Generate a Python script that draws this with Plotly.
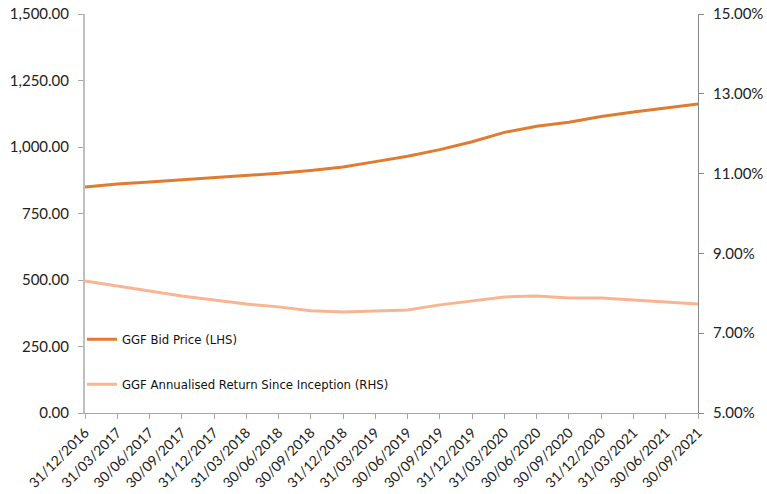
import plotly.graph_objects as go

dates = ["31/12/2016", "31/03/2017", "30/06/2017", "30/09/2017", "31/12/2017",
         "31/03/2018", "30/06/2018", "30/09/2018", "31/12/2018", "31/03/2019",
         "30/06/2019", "30/09/2019", "31/12/2019", "31/03/2020", "30/06/2020",
         "30/09/2020", "31/12/2020", "31/03/2021", "30/06/2021", "30/09/2021"]

bid_price = [850, 861, 868, 876, 884, 893, 901, 912, 925, 945,
             965, 990, 1020, 1055, 1078, 1093, 1115, 1132, 1146, 1162]

ann_return = [8.31, 8.18, 8.06, 7.93, 7.83, 7.73, 7.66, 7.56, 7.53, 7.56,
              7.58, 7.71, 7.81, 7.91, 7.93, 7.88, 7.88, 7.83, 7.78, 7.73]

bid_name = "GGF Bid Price (LHS)"
ret_name = "GGF Annualised Return Since Inception (RHS)"

fig = go.Figure()
fig.add_trace(go.Scatter(x=dates, y=bid_price, mode="lines", name=bid_name,
                         line=dict(color="#E07B30", width=3), legendgroup="a"))
fig.add_trace(go.Scatter(x=dates, y=ann_return, mode="lines", name=ret_name,
                         line=dict(color="#F9B592", width=3), yaxis="y2", legendgroup="b"))

xfont = dict(family="Lato, 'Open Sans', sans-serif", size=14, color="#222")
yfont = dict(family="Lato, 'Open Sans', sans-serif", size=15, color="#222")

fig.update_layout(
    width=767, height=494,
    margin=dict(l=85, r=69, t=14, b=81, autoexpand=False),
    paper_bgcolor="white", plot_bgcolor="white",
    showlegend=True,
    legend=dict(x=-0.005, y=0.222, xanchor="left", yanchor="top",
                font=dict(family="'DejaVu Sans Condensed', sans-serif", size=13, color="#111"),
                bgcolor="rgba(0,0,0,0)", tracegroupgap=25, itemwidth=30),
    xaxis=dict(type="category", range=[0, len(dates) - 1], tickangle=-45,
               showgrid=False, showline=True, linecolor="#A6A6A6", linewidth=1,
               ticks="outside", ticklen=5, tickcolor="#A6A6A6", automargin=False,
               tickfont=xfont, zeroline=False),
    yaxis=dict(range=[0, 1500], dtick=250, tickformat=",.2f",
               showgrid=False, showline=True, linecolor="#BFBFBF", linewidth=2,
               ticks="outside", ticklen=5, tickcolor="#A6A6A6", automargin=False,
               ticklabelstandoff=6, tickfont=yfont, zeroline=False),
    yaxis2=dict(range=[5, 15], tick0=5, dtick=2, tickformat=".2f", ticksuffix="%",
                overlaying="y", side="right", automargin=False,
                showgrid=False, showline=True, linecolor="#888888", linewidth=1,
                ticks="outside", ticklen=5, tickcolor="#888888",
                ticklabelstandoff=6, tickfont=yfont, zeroline=False),
)

fig.write_html("out.html", config={"displayModeBar": False},
               post_script="document.body.style.margin='0';")
